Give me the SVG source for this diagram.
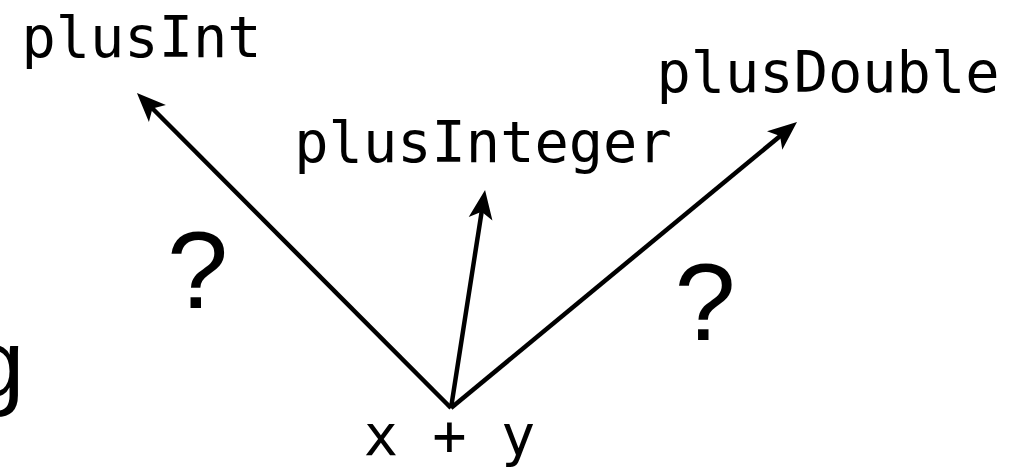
<svg xmlns="http://www.w3.org/2000/svg" width="1025" height="468" viewBox="0 0 1025 468">
<style>
.mono{font-family:"DejaVu Sans Mono","Liberation Mono",monospace;font-size:57px;fill:#000;text-anchor:middle}
.sans{font-family:"Liberation Sans",Arial,sans-serif;fill:#000}
.q{font-size:110px;text-anchor:middle}
.edge{stroke:#000;stroke-width:4.5;fill:none;marker-end:url(#ah)}
</style>
<defs>
<marker id="ah" markerUnits="userSpaceOnUse" viewBox="-32 -16 34 32" markerWidth="34" markerHeight="32" refX="-10" refY="0" orient="auto">
<path d="M0,0 L-29,-12 L-22,0 L-29,12 Z" fill="#000"/>
</marker>
</defs>
<rect width="1025" height="468" fill="#fff"/>
<text class="sans" x="-29" y="397" font-size="96">g</text>
<g id="connectors">
<line class="edge" x1="451" y1="408" x2="144" y2="100"/>
<line class="edge" x1="451" y1="408" x2="483.5" y2="200"/>
<line class="edge" x1="451" y1="408" x2="789.3" y2="128.4"/>
</g>
<g id="plusInt"><text class="mono" x="141.5" y="57">plusInt</text></g>
<g id="plusInteger"><text class="mono" x="483" y="162">plusInteger</text></g>
<g id="plusDouble"><text class="mono" x="828" y="92">plusDouble</text></g>
<g id="xy"><text class="mono" x="449.5" y="455">x + y</text></g>
<g id="q1"><text class="sans q" x="197.5" y="308">?</text></g>
<g id="q2"><text class="sans q" x="705" y="340">?</text></g>
</svg>
